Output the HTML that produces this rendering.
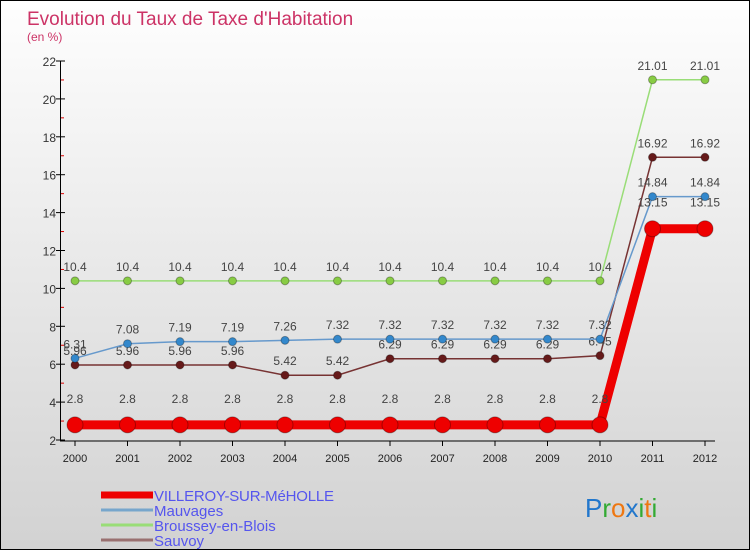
<!DOCTYPE html>
<html><head><meta charset="utf-8"><style>
body{margin:0}
#c{width:748px;height:548px;border:1px solid #000;background:linear-gradient(#fefefe,#d2d2d2);position:relative;font-family:"Liberation Sans",sans-serif;overflow:hidden}
</style></head><body>
<div id="c">
<svg id="s" width="748" height="548" xmlns="http://www.w3.org/2000/svg" font-family="Liberation Sans, sans-serif"></svg>
</div>
<script>
const years=[2000,2001,2002,2003,2004,2005,2006,2007,2008,2009,2010,2011,2012];
const yTicks=[2,4,6,8,10,12,14,16,18,20,22];
const villeroy=[2.8,2.8,2.8,2.8,2.8,2.8,2.8,2.8,2.8,2.8,2.8,13.15,13.15];
const mauvages=[6.31,7.08,7.19,7.19,7.26,7.32,7.32,7.32,7.32,7.32,7.32,14.84,14.84];
const broussey=[10.4,10.4,10.4,10.4,10.4,10.4,10.4,10.4,10.4,10.4,10.4,21.01,21.01];
const sauvoy=[5.96,5.96,5.96,5.96,5.42,5.42,6.29,6.29,6.29,6.29,6.45,16.92,16.92];
const seriesNames=["VILLEROY-SUR-MéHOLLE","Mauvages","Broussey-en-Blois","Sauvoy"];
const NS="http://www.w3.org/2000/svg",s=document.getElementById('s');
const X=i=>74+i*52.5, Y=v=>439-(v-2)*18.95;
function el(t,a,txt){const e=document.createElementNS(NS,t);for(const k in a)e.setAttribute(k,a[k]);if(txt!==undefined)e.textContent=txt;s.appendChild(e);return e;}
let t=el('text',{x:26,y:24,fill:'#cc3366','font-size':19},'Evolution du Taux de Taxe d\'Habitation');

t=el('text',{x:26,y:40,fill:'#cc3366','font-size':12},'(en %)');

t=el('line',{x1:59.5,y1:Y(22),x2:59.5,y2:Y(2)+1,stroke:'#000'});
t=el('line',{x1:59,y1:Y(2)+1,x2:X(12)+10,y2:Y(2)+1,stroke:'#000'});
yTicks.forEach(v=>{el('line',{x1:55,x2:64,y1:Y(v),y2:Y(v),stroke:'#000'});
 if(v<22)el('line',{x1:60,x2:63,y1:Y(v+1),y2:Y(v+1),stroke:'#d00'});
 t=el('text',{x:55,y:Y(v)+5,'text-anchor':'end','font-size':12,fill:'#333'},v);
 });
years.forEach((y,i)=>{el('line',{x1:X(i),x2:X(i),y1:Y(2)+1,y2:Y(2)+6,stroke:'#000'});
 t=el('text',{x:X(i),y:Y(2)+22,'text-anchor':'middle','font-size':11,fill:'#222'},y);
 });
function series(d,col,w,r,dot,name,labOff){
 const p=el('polyline',{points:d.map((v,i)=>X(i)+','+Y(v)).join(' '),fill:'none',stroke:col,'stroke-width':w});
 
 d.forEach((v,i)=>{const c=el('circle',{cx:X(i),cy:Y(v),r:r,fill:dot,stroke:'rgba(0,0,0,0.3)'});
  
  const l=el('text',{x:X(i),y:Y(v)-labOff,'text-anchor':'middle','font-size':12,fill:'#444'},v);
  });
}
series(broussey,'#99dd77',1.5,4,'#88cc44','broussey',10);
series(sauvoy,'#773333',1.5,4,'#661a1a','sauvoy',10);
series(mauvages,'#6699cc',1.5,4,'#3388cc','mauvages',10);
series(villeroy,'#ee0000',9,8,'#ee0000','villeroy',22);
const lc=['#ee0000','#77a6cc','#99dd77','#997070'],lw=[7,3,3,3];
seriesNames.forEach((n,i)=>{const y=492+i*15;
 t=el('line',{x1:100,x2:152,y1:y+2,y2:y+2,stroke:lc[i],'stroke-width':lw[i]});
 t=el('text',{x:153,y:y+8,'font-size':15,fill:'#5555ee',textLength:i==0?180:null});if(i!=0)t.removeAttribute('textLength');t.textContent=n;});
const g=el('text',{x:584,y:516,'font-size':26});
[['P','#2277cc'],['r','#33aa33'],['o','#ee7711'],['x','#2277cc'],['i','#33aa33'],['t','#ee7711'],['i','#33aa33']].forEach(([c,f])=>{const ts=document.createElementNS(NS,'tspan');ts.setAttribute('fill',f);ts.textContent=c;g.appendChild(ts);});
</script>
</body></html>
